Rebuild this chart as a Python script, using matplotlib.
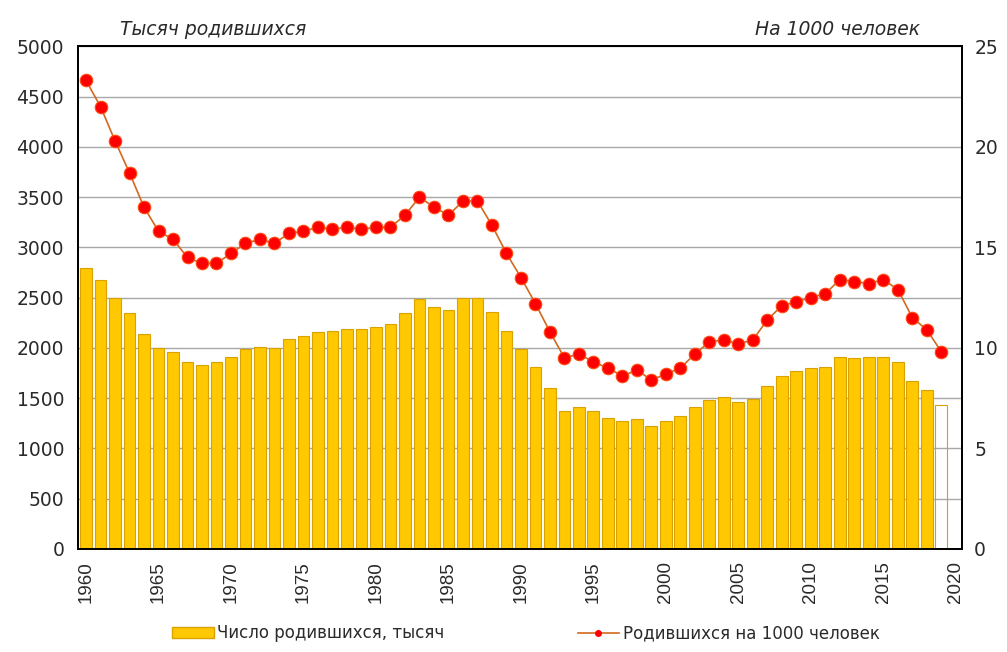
import numpy as np
import matplotlib
matplotlib.use('Agg')
import matplotlib.pyplot as plt
from matplotlib.patches import Patch
from matplotlib.lines import Line2D

plt.rcParams['font.family'] = ['DejaVu Sans']

years = list(range(1960, 2020))

# число родившихся, тысяч
births = [2793, 2674, 2495, 2346, 2137, 1998, 1958, 1859, 1829, 1859,
          1909, 1988, 2008, 1998, 2087, 2117, 2157, 2167, 2187, 2187,
          2207, 2237, 2346, 2485, 2406, 2376, 2495, 2495, 2356, 2167,
          1988, 1809, 1600, 1372, 1412, 1372, 1302, 1272, 1292, 1223,
          1272, 1322, 1411, 1481, 1511, 1461, 1491, 1620, 1720, 1770,
          1799, 1809, 1908, 1898, 1908, 1908, 1859, 1670, 1580, 1431]

# родившихся на 1000 человек
rate = [23.3, 22.0, 20.3, 18.7, 17.0, 15.8, 15.4, 14.5, 14.2, 14.2,
        14.7, 15.2, 15.4, 15.2, 15.7, 15.8, 16.0, 15.9, 16.0, 15.9,
        16.0, 16.0, 16.6, 17.5, 17.0, 16.6, 17.3, 17.3, 16.1, 14.7,
        13.5, 12.2, 10.8, 9.5, 9.7, 9.3, 9.0, 8.6, 8.9, 8.4,
        8.7, 9.0, 9.7, 10.3, 10.4, 10.2, 10.4, 11.4, 12.1, 12.3,
        12.5, 12.7, 13.4, 13.3, 13.2, 13.4, 12.9, 11.5, 10.9, 9.8]

xticks = list(range(1960, 2021, 5))

bar_col = '#FFC800'
bar_edge = '#D9A200'
txt = '#2a2a2a'

fig = plt.figure(figsize=(10.07, 6.52), dpi=100)
ax = fig.add_axes([0.0775, 0.158, 0.8775, 0.771])

face = [bar_col] * (len(years) - 1) + ['none']
ax.bar(years, births, width=0.82, color=face, edgecolor=bar_edge, linewidth=0.8, zorder=2)

ax.set_ylim(0, 5000)
ax.set_yticks(range(0, 5001, 500))
ax.set_xlim(1959.45, 2020.4)
ax.set_xticks(xticks)
ax.set_xticklabels([str(t) for t in xticks], rotation=90, family='Liberation Sans', fontsize=14)
ax.grid(axis='y', color='#A8A8A8', linewidth=1)
ax.set_axisbelow(True)
ax.tick_params(length=0, labelsize=13.5, pad=10, colors=txt)
ax.tick_params(axis='x', pad=9)

ax2 = ax.twinx()
ax2.plot(years, rate, color='#D2691E', linewidth=1.2, marker='o', markersize=9,
         markerfacecolor='#FF0000', markeredgecolor='#FF4A10', markeredgewidth=0.8, zorder=3)
ax2.set_ylim(0, 25)
ax2.set_yticks(range(0, 26, 5))
ax2.tick_params(length=0, labelsize=13.5, pad=9, colors=txt)

for a in (ax, ax2):
    for s in a.spines.values():
        s.set_color('black')
        s.set_linewidth(1.3)

fig.text(0.119, 0.955, 'Тысяч родившихся', fontsize=13.5, style='italic', color=txt, va='center')
fig.text(0.914, 0.955, 'На 1000 человек', fontsize=13.5, style='italic', color=txt, va='center', ha='right')

handles = [Patch(facecolor=bar_col, edgecolor=bar_edge),
           Line2D([], [], color='#D2691E', linewidth=1.2, marker='o', markersize=4,
                  markerfacecolor='#FF0000', markeredgecolor='#FF0000')]
labels = ['Число родившихся, тысяч', 'Родившихся на 1000 человек']
fig.legend(handles, labels, loc='center', bbox_to_anchor=(0.522, 0.029), ncol=2,
           frameon=False, fontsize=12, handlelength=2.5, handleheight=0.6,
           handletextpad=0.2, columnspacing=8.0, labelcolor=txt)

fig.savefig('out.png', dpi=100)
